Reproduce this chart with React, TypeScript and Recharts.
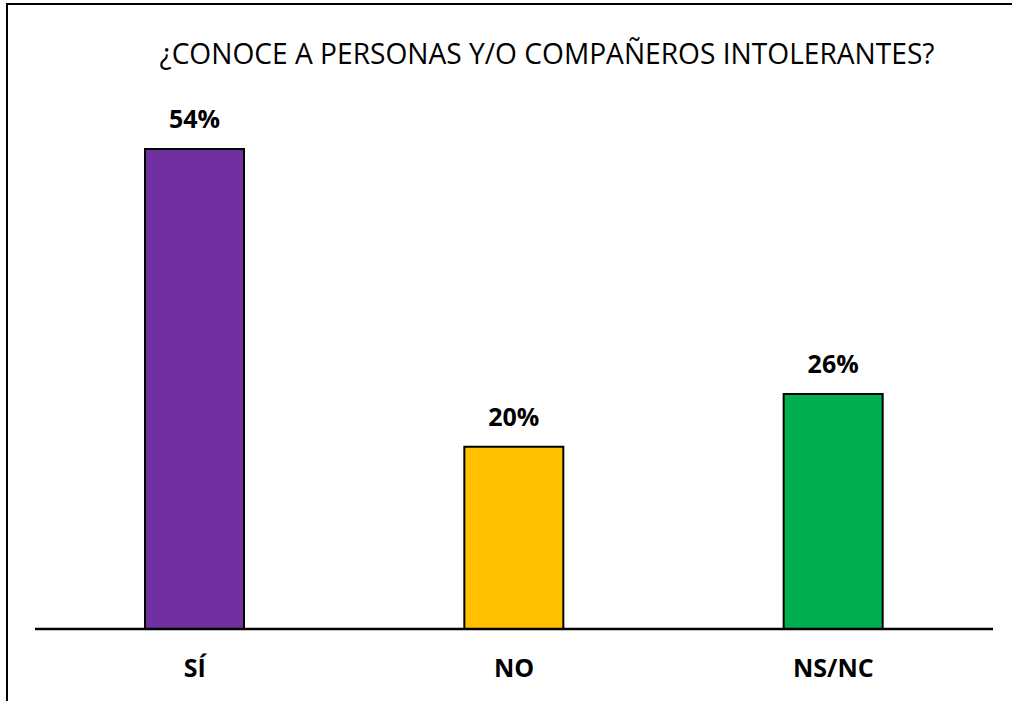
import { BarChart, Bar, XAxis, YAxis, Cell, LabelList } from "recharts"

const categories = ["SÍ", "NO", "NS/NC"]
const values = [53.5, 20.3, 26.2]
const colors = ["#7030A0", "#FFC000", "#00B050"]
const title = "¿CONOCE A PERSONAS Y/O COMPAÑEROS INTOLERANTES?"

const data = categories.map((name, i) => ({ name, value: values[i] }))

const FONT = "'Open Sans', 'Noto Sans', sans-serif"

function CategoryTick(props: any) {
  const { x, y, payload } = props
  return (
    <text
      x={x}
      y={y + 48}
      textAnchor="middle"
      fill="#000"
      fontFamily={FONT}
      fontWeight={700}
      fontSize={25}
    >
      {payload.value}
    </text>
  )
}

export default function App() {
  return (
    <div
      style={{
        position: "absolute",
        left: 0,
        top: 0,
        width: 1012,
        height: 701,
        overflow: "hidden",
        background: "#fff",
      }}
    >
      <div style={{ position: "absolute", left: 0, top: 0 }}>
        <BarChart
          width={1012}
          height={701}
          data={data}
          margin={{ top: 149, right: 19, left: 35, bottom: 0 }}
        >
          <XAxis
            dataKey="name"
            height={72}
            axisLine={{ stroke: "#000", strokeWidth: 2.5 }}
            tickLine={false}
            tickSize={0}
            tickMargin={0}
            interval={0}
            tick={<CategoryTick />}
          />
          <YAxis hide domain={[0, "dataMax"]} />
          <Bar
            dataKey="value"
            barSize={99}
            stroke="#000"
            strokeWidth={2}
            isAnimationActive={false}
          >
            {data.map((d, i) => (
              <Cell key={d.name} fill={colors[i]} />
            ))}
            <LabelList
              dataKey="value"
              position="top"
              offset={21}
              formatter={(v: any) => `${Math.round(Number(v))}%`}
              fill="#000"
              fontFamily={FONT}
              fontWeight={700}
              fontSize={25}
            />
          </Bar>
        </BarChart>
      </div>
      <svg
        width={1012}
        height={701}
        style={{ position: "absolute", left: 0, top: 0, pointerEvents: "none" }}
      >
        {/* frame: only its left and top edges fall inside the picture */}
        <path d="M7 701 V4 H1012" fill="none" stroke="#000" strokeWidth={2} />
        <text
          x={547}
          y={64}
          textAnchor="middle"
          fontFamily={FONT}
          fontSize={30}
          fill="#000"
          textLength={775}
          lengthAdjust="spacingAndGlyphs"
        >
          {title}
        </text>
      </svg>
    </div>
  )
}
